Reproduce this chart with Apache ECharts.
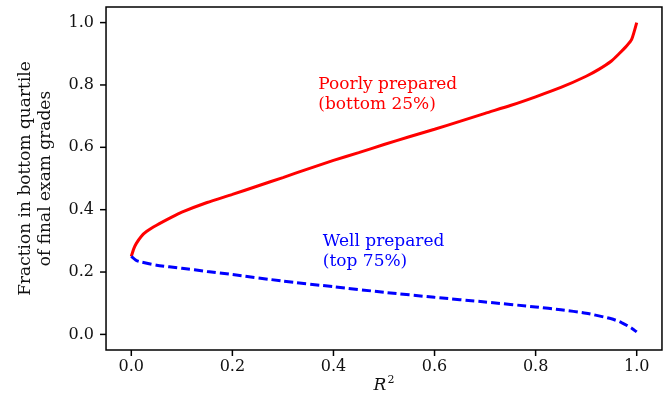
<!DOCTYPE html>
<html>
<head>
<meta charset="utf-8">
<script src="https://cdn.jsdelivr.net/npm/echarts@6/dist/echarts.min.js"></script>
<style>html,body{margin:0;padding:0;background:#fff}#c{width:665px;height:404px}</style>
</head>
<body>
<div id="c"></div>
<script>
// ---- data ----
const poorX = [0, 0.005, 0.01, 0.02, 0.03, 0.05, 0.08, 0.1, 0.15, 0.2, 0.25, 0.3, 0.35, 0.4, 0.45, 0.5, 0.55, 0.6, 0.65, 0.7, 0.75, 0.8, 0.85, 0.9, 0.925, 0.95, 0.965, 0.98, 0.99, 1.0];
const poorY = [0.25, 0.275, 0.292, 0.315, 0.33, 0.35, 0.376, 0.392, 0.423, 0.449, 0.476, 0.503, 0.531, 0.558, 0.583, 0.609, 0.634, 0.658, 0.683, 0.709, 0.734, 0.762, 0.792, 0.828, 0.85, 0.877, 0.9, 0.925, 0.946, 1.0];
const wellX = [0, 0.01, 0.02, 0.05, 0.1, 0.15, 0.2, 0.3, 0.4, 0.5, 0.6, 0.7, 0.8, 0.85, 0.9, 0.95, 0.97, 0.99, 1.0];
const wellY = [0.25, 0.237, 0.232, 0.222, 0.212, 0.202, 0.192, 0.171, 0.153, 0.135, 0.119, 0.104, 0.088, 0.079, 0.068, 0.05, 0.038, 0.02, 0.008];
const tickValues = [0, 0.2, 0.4, 0.6, 0.8, 1.0];
const poorLabel = 'Poorly prepared\n(bottom 25%)';
const wellLabel = 'Well prepared\n(top 75%)';
const yName = 'Fraction in bottom quartile\nof final exam grades';

const FONT = '"DejaVu Serif", serif';
const TXT = '#111';
const PAD = 0.05; // matplotlib-style axis margin
const TICK = 6;
const chart = echarts.init(document.getElementById('c'), null, {renderer: 'canvas'});

function axisCommon() {
  return {
    type: 'value', min: tickValues[0], max: tickValues[tickValues.length - 1], interval: 0.2,
    axisLine: {show: false},
    splitLine: {show: false},
    nameMoveOverlap: false,
    axisTick: {show: false},
    axisLabel: {color: TXT, fontFamily: FONT, fontSize: 16, formatter: v => v.toFixed(1)}
  };
}

const xAx = axisCommon();
xAx.offset = 15.6;
xAx.axisLabel.margin = 9;
xAx.name = '{i|R}{s|2}';
xAx.nameLocation = 'middle';
xAx.nameGap = 25;
xAx.nameTextStyle = {rich: {
  i: {fontFamily: FONT, fontStyle: 'italic', fontSize: 17, color: TXT, verticalAlign: 'bottom'},
  s: {fontFamily: FONT, fontSize: 11, color: TXT, verticalAlign: 'top', padding: [0, 0, 8, 1]}
}};

const yAx = axisCommon();
yAx.offset = 25.3;
yAx.axisLabel.margin = 12;
yAx.name = yName;
yAx.nameLocation = 'middle';
yAx.nameRotate = 90;
yAx.nameGap = 50;
yAx.nameTextStyle = {fontFamily: FONT, fontSize: 17, color: TXT, lineHeight: 20, align: 'center'};

chart.setOption({
  animation: false,
  backgroundColor: '#fff',
  grid: {left: 131.3, right: 28.3, top: 22.6, bottom: 69.6, outerBoundsMode: 'none', containLabel: false},
  xAxis: xAx,
  yAxis: yAx,
  series: [
    {type: 'line', data: poorX.map((x, i) => [x, poorY[i]]), showSymbol: false, smooth: 0.2, clip: false,
      lineStyle: {color: '#ff0000', width: 3}, z: 3},
    {type: 'line', data: wellX.map((x, i) => [x, wellY[i]]), showSymbol: false, smooth: 0.2, clip: false,
      lineStyle: {color: '#0000ff', width: 3, type: [9, 4]}, z: 3}
  ]
});

const tl = chart.convertToPixel({gridIndex: 0}, [-PAD, 1 + PAD]);
const br = chart.convertToPixel({gridIndex: 0}, [1 + PAD, -PAD]);
const p1 = chart.convertToPixel({gridIndex: 0}, [0.37, 0.834]);
const p2 = chart.convertToPixel({gridIndex: 0}, [0.379, 0.329]);
const graphics = [];
graphics.push({type: 'rect', shape: {x: tl[0], y: tl[1], width: br[0] - tl[0], height: br[1] - tl[1]},
  style: {fill: 'none', stroke: '#000', lineWidth: 1.5}, z: 10});
tickValues.forEach(v => {
  const p = chart.convertToPixel({gridIndex: 0}, [v, v]);
  // y-axis tick (outward, left of frame)
  graphics.push({type: 'rect', shape: {x: tl[0] - TICK, y: p[1] - 0.75, width: TICK, height: 1.5},
    style: {fill: '#000', stroke: null}, z: 11});
  // x-axis tick (outward, below frame)
  graphics.push({type: 'rect', shape: {x: p[0] - 0.75, y: br[1], width: 1.5, height: TICK},
    style: {fill: '#000', stroke: null}, z: 11});
});
graphics.push({type: 'text', x: p1[0], y: p1[1], style: {text: poorLabel, fill: '#ff0000', font: '17px ' + FONT, lineHeight: 20, verticalAlign: 'top'}});
graphics.push({type: 'text', x: p2[0], y: p2[1], style: {text: wellLabel, fill: '#0000ff', font: '17px ' + FONT, lineHeight: 20, verticalAlign: 'top'}});
chart.setOption({graphic: {elements: graphics}});
</script>
</body>
</html>
